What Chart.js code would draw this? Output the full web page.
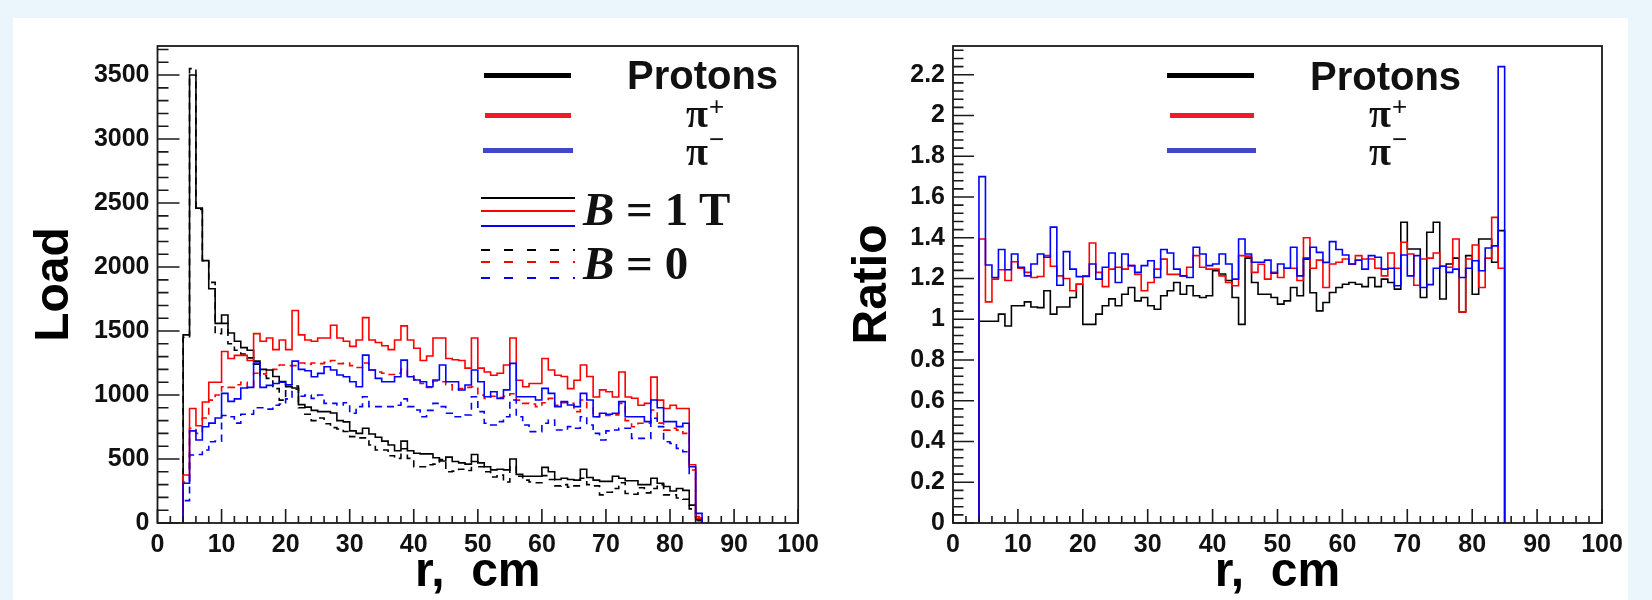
<!DOCTYPE html>
<html>
<head>
<meta charset="utf-8">
<script src="https://cdn.jsdelivr.net/npm/chart.js@4.4.1/dist/chart.umd.min.js"></script>
<style>
html,body{margin:0;padding:0;}
body{width:1652px;height:600px;background:#eaf5fc;position:relative;overflow:hidden;}
#panel{position:absolute;left:13px;top:18px;width:1615px;height:582px;background:#fff;}
canvas{position:absolute;top:0;}
#c1{left:0;}
#c2{left:826px;}
.ln{position:absolute;height:2px;}
.bar{position:absolute;height:5px;}
.t{position:absolute;white-space:nowrap;color:#111;}
.prot{font:bold 40px 'Liberation Sans',Arial,sans-serif;line-height:40px;}
.pi{font:bold 40px 'Liberation Serif','Times New Roman',serif;line-height:40px;}
.sup{font:26px 'Liberation Sans',Arial,sans-serif;line-height:26px;}
.bl{font:bold 47px 'Liberation Serif','Times New Roman',serif;line-height:47px;}
.dash{background:repeating-linear-gradient(to right,var(--c) 0 9px,transparent 9px 23px);}
</style>
</head>
<body>
<div id="panel"></div>
<canvas id="c1" width="826" height="600"></canvas>
<canvas id="c2" width="826" height="600"></canvas>

<!-- left legend -->
<div class="bar" style="left:484px;top:73px;width:87px;background:#000;"></div>
<div class="bar" style="left:485px;top:112.5px;width:86px;background:#ee1c24;"></div>
<div class="bar" style="left:483px;top:147.5px;width:90px;background:#3f48cc;"></div>
<div class="t prot" style="left:627px;top:55.1px;">Protons</div>
<div class="t pi" style="left:686px;top:93.5px;">π</div>
<div class="t sup" style="left:709px;top:92.5px;">+</div>
<div class="t pi" style="left:686px;top:131.5px;">π</div>
<div class="t sup" style="left:709px;top:126px;">−</div>
<div class="ln" style="left:481px;top:197px;width:94px;background:#000;"></div>
<div class="ln" style="left:481px;top:210px;width:94px;background:#ff0000;"></div>
<div class="ln" style="left:481px;top:224.5px;width:94px;background:#0000ff;"></div>
<div class="t bl" style="left:583px;top:185.6px;"><i>B</i> = 1 T</div>
<div class="ln dash" style="left:481px;top:249px;width:94px;--c:#000;"></div>
<div class="ln dash" style="left:481px;top:261.3px;width:94px;--c:#ff0000;"></div>
<div class="ln dash" style="left:481px;top:276.7px;width:94px;--c:#0000ff;"></div>
<div class="t bl" style="left:583px;top:239.6px;"><i>B</i> = 0</div>

<!-- right legend -->
<div class="bar" style="left:1167px;top:73px;width:87px;background:#000;"></div>
<div class="bar" style="left:1170px;top:112.5px;width:84px;background:#ee1c24;"></div>
<div class="bar" style="left:1167px;top:148px;width:89px;background:#3f48cc;"></div>
<div class="t prot" style="left:1310px;top:56.1px;">Protons</div>
<div class="t pi" style="left:1369px;top:93.5px;">π</div>
<div class="t sup" style="left:1392px;top:92.5px;">+</div>
<div class="t pi" style="left:1369px;top:131.5px;">π</div>
<div class="t sup" style="left:1392px;top:126px;">−</div>

<script>
// ---- bins (lower edges, cm), 1 cm wide ----
const binLow = [4,5,6,7,8,9,10,11,12,13,14,15,16,17,18,19,20,21,22,23,24,25,26,27,28,29,30,31,32,33,34,35,36,37,38,39,40,41,42,43,44,45,46,47,48,49,50,51,52,53,54,55,56,57,58,59,60,61,62,63,64,65,66,67,68,69,70,71,72,73,74,75,76,77,78,79,80,81,82,83,84];

// ---- tick labels ----
const xTickVals = [0,10,20,30,40,50,60,70,80,90,100];
const yTickLoad = [0,500,1000,1500,2000,2500,3000,3500];
const yTickRatio = [0,0.2,0.4,0.6,0.8,1,1.2,1.4,1.6,1.8,2,2.2];

// ---- Load, B = 1 T ----
const protonsB1 = [1470,3500,2460,2050,1830,1560,1625,1485,1420,1370,
 1350,1265,1200,1195,1145,1105,1065,1055,925,905,
 880,870,870,860,800,790,720,700,740,695,
 670,640,610,565,640,565,545,540,540,510,
 485,515,480,470,460,535,470,440,415,420,
 415,500,380,365,365,365,435,400,340,350,
 340,335,420,355,335,325,325,365,350,330,
 330,300,300,350,310,285,250,270,255,140,
 25];
const piPlusB1 = [375,895,760,945,1100,1100,1340,1285,1310,1310,
 1270,1480,1420,1445,1355,1430,1355,1660,1470,1430,
 1420,1445,1445,1545,1445,1420,1380,1430,1605,1430,
 1410,1385,1355,1430,1540,1430,1365,1270,1305,1445,
 1445,1285,1275,1270,1210,1445,1210,1180,1155,1170,
 1235,1445,1115,1065,1090,1090,1285,1195,1155,1145,
 1050,1115,1235,1145,985,1040,1025,985,1180,985,
 975,920,935,1140,960,895,920,895,895,455,
 35];
const piMinusB1 = [310,720,648,752,780,820,1013,950,970,1055,
 1060,1250,1060,1075,1090,1100,1080,1265,1200,1190,
 1143,1169,1221,1195,1156,1143,1104,1065,1312,1195,
 1130,1104,1104,1143,1273,1143,1117,1104,1065,1117,
 1234,1104,1104,1039,1078,1195,1104,987,1026,974,
 1040,1247,987,987,987,961,1052,1013,909,948,
 922,909,1013,961,830,857,850,857,948,830,
 830,830,792,961,900,792,792,753,779,440,
 75];

// ---- Load, B = 0 ----
const protonsB0 = [1450,3550,2450,2050,1880,1480,1560,1400,1350,1320,
 1290,1240,1150,1130,1050,960,1080,1070,900,850,
 800,820,775,745,735,715,675,665,665,610,
 570,570,525,505,580,505,440,440,455,460,
 495,400,405,420,410,480,440,400,360,375,
 320,440,365,335,320,315,370,340,290,300,
 280,290,350,300,290,220,240,270,315,230,
 225,275,235,270,300,220,220,195,185,110,
 18];
const piPlusB0 = [320,740,700,820,960,1000,1065,1060,1080,1100,
 1060,1170,1165,1190,1200,1234,1230,1230,1250,1240,
 1250,1245,1255,1270,1245,1250,1230,1215,1250,1195,
 1180,1170,1160,1170,1200,1150,1120,1090,1060,1110,
 1104,1080,1039,1050,1060,1065,1000,974,990,980,
 990,1010,960,935,930,909,940,974,920,940,
 935,870,961,900,830,850,840,845,935,800,
 752,779,780,883,780,726,740,726,700,414,
 50];
const piMinusB0 = [175,531,535,570,635,640,840,830,780,850,
 850,900,900,890,920,930,970,1045,990,1000,
 974,1000,935,935,922,940,857,909,987,909,
 909,909,909,920,970,909,883,830,880,935,
 909,857,830,830,844,987,870,779,766,792,
 830,961,830,766,714,714,779,805,727,727,
 753,740,830,766,700,648,720,727,740,740,
 661,661,661,818,753,635,622,583,557,388,
 36];

// ---- Ratio ----
const ratioProtons = [0.99,0.99,0.99,1.025,0.967,1.066,1.066,1.085,1.06,1.057,
 1.14,1.025,1.06,1.06,1.107,1.172,0.975,0.975,1.025,1.066,
 1.1,1.066,1.123,1.156,1.09,1.107,1.066,1.049,1.115,1.14,
 1.18,1.123,1.164,1.115,1.107,1.115,1.238,1.222,1.19,1.107,
 0.975,1.3,1.18,1.123,1.123,1.107,1.074,1.09,1.156,1.115,
 1.295,1.13,1.041,1.082,1.131,1.156,1.172,1.18,1.172,1.16,
 1.205,1.16,1.197,1.18,1.148,1.476,1.345,1.345,1.107,1.427,
 1.476,1.099,1.271,1.3,1.036,1.312,1.123,1.394,1.394,1.28,
 1.435];
const ratioPiPlus = [1.394,1.085,1.197,1.243,1.19,1.282,1.25,1.23,1.205,1.21,
 1.312,1.26,1.213,1.2,1.14,1.172,1.213,1.374,1.23,1.16,
 1.246,1.255,1.246,1.263,1.22,1.14,1.18,1.246,1.295,1.22,
 1.22,1.213,1.255,1.312,1.255,1.246,1.246,1.213,1.18,1.164,
 1.312,1.31,1.23,1.27,1.197,1.23,1.205,1.25,1.25,1.19,
 1.40,1.25,1.29,1.156,1.271,1.28,1.296,1.27,1.312,1.296,
 1.296,1.25,1.213,1.325,1.25,1.378,1.32,1.167,1.296,1.3,
 1.325,1.26,1.255,1.394,1.036,1.296,1.364,1.156,1.3,1.5,
 1.25];
const ratioPiMinus = [1.70,1.266,1.205,1.342,1.243,1.32,1.255,1.213,1.271,1.32,
 1.304,1.452,1.167,1.332,1.246,1.209,1.21,1.271,1.197,1.255,
 1.325,1.18,1.32,1.263,1.23,1.263,1.287,1.205,1.342,1.325,
 1.246,1.213,1.205,1.353,1.32,1.263,1.271,1.32,1.271,1.197,
 1.394,1.32,1.28,1.28,1.29,1.226,1.271,1.25,1.353,1.213,
 1.3,1.353,1.328,1.279,1.381,1.342,1.315,1.271,1.29,1.246,
 1.312,1.304,1.246,1.25,1.164,1.315,1.213,1.312,1.156,1.17,
 1.25,1.26,1.23,1.246,1.205,1.25,1.287,1.238,1.35,1.36,
 2.24];

// histogram outline points: rise from 0 at first edge, step per bin, drop to 0 at last edge
function histPoints(vals) {
  const pts = [{x: binLow[0], y: 0}];
  vals.forEach((v, i) => pts.push({x: binLow[i], y: v}));
  pts.push({x: binLow[binLow.length - 1] + 1, y: 0});
  return pts;
}
function ds(vals, color, dashed, order) {
  return {data: histPoints(vals), borderColor: color, borderWidth: 1.6, stepped: true,
    fill: false, pointRadius: 0, borderDash: dashed ? [7, 5] : [], order: order};
}

// ROOT-like frame with inner ticks
const rootAxes = {
  id: 'rootAxes',
  afterDraw(chart, args, o) {
    const {ctx, chartArea: a, scales: {x, y}} = chart;
    ctx.save();
    ctx.strokeStyle = '#1a1a1a';
    ctx.lineWidth = 1.6;
    ctx.beginPath();
    const nx = Math.round((x.max - x.min) / o.xMinor);
    for (let k = 0; k <= nx; k++) {
      const v = x.min + k * o.xMinor;
      const px = x.getPixelForValue(v);
      const major = Math.abs(v / o.xMajor - Math.round(v / o.xMajor)) < 1e-6;
      ctx.moveTo(px, a.bottom);
      ctx.lineTo(px, a.bottom - (major ? o.xMajLen : o.xMinLen));
    }
    const ny = Math.floor((y.max - y.min) / o.yMinor + 1e-6);
    for (let k = 0; k <= ny; k++) {
      const v = y.min + k * o.yMinor;
      const py = y.getPixelForValue(v);
      const major = Math.abs(v / o.yMajor - Math.round(v / o.yMajor)) < 1e-6;
      ctx.moveTo(a.left, py);
      ctx.lineTo(a.left + (major ? o.yMajLen : o.yMinLen), py);
    }
    ctx.stroke();
    ctx.lineWidth = 1.8;
    ctx.strokeRect(a.left, a.top, a.right - a.left, a.bottom - a.top);
    ctx.restore();
  }
};

const tickFont = {family: "'Liberation Sans', Arial, sans-serif", weight: 'bold', size: 25};
const titleFont = {family: "'Liberation Sans', Arial, sans-serif", weight: 'bold', size: 48, lineHeight: 1};

function makeChart(id, datasets, cfg) {
  return new Chart(document.getElementById(id), {
    type: 'line',
    data: {datasets},
    options: {
      responsive: false, animation: false, devicePixelRatio: 1,
      layout: {padding: {top: 46, right: cfg.padRight, left: 0, bottom: 0}},
      plugins: {legend: {display: false}, tooltip: {enabled: false}, rootAxes: cfg.ticks},
      scales: {
        x: {
          type: 'linear', min: 0, max: 100,
          afterBuildTicks: s => { s.ticks = xTickVals.map(v => ({value: v})); },
          afterFit: s => { s.height = 77; },
          grid: {display: false, drawTicks: false}, border: {display: false},
          ticks: {font: tickFont, color: '#111', padding: 7, maxRotation: 0, autoSkip: false,
                  callback: v => String(v)},
          title: {display: true, text: 'r,  cm', font: titleFont, color: '#000', padding: {top: 0, bottom: 3}}
        },
        y: {
          type: 'linear', min: 0, max: cfg.yMax,
          afterBuildTicks: s => { s.ticks = cfg.yTicks.map(v => ({value: v})); },
          afterFit: s => { s.width = cfg.yWidth; },
          grid: {display: false, drawTicks: false}, border: {display: false},
          ticks: {font: tickFont, color: '#111', padding: 8, autoSkip: false,
                  callback: v => String(+Number(v).toFixed(2))},
          title: {display: true, text: cfg.yTitle, font: titleFont, color: '#000', padding: {top: cfg.yTitlePad, bottom: 0}}
        }
      }
    },
    plugins: [rootAxes]
  });
}

makeChart('c1', [
  ds(piMinusB1, '#0000ff', false, 0),
  ds(piPlusB1, '#ff0000', false, 1),
  ds(protonsB1, '#000000', false, 2),
  ds(piMinusB0, '#0000ff', true, 3),
  ds(piPlusB0, '#ff0000', true, 4),
  ds(protonsB0, '#000000', true, 5)
], {padRight: 20, yWidth: 157.5, yMax: 3727, yTicks: yTickLoad, yTitle: 'Load', yTitlePad: 31,
    ticks: {xMajor: 10, xMinor: 2, xMajLen: 14, xMinLen: 7, yMajor: 500, yMinor: 100, yMajLen: 22, yMinLen: 11}});

makeChart('c2', [
  ds(ratioPiMinus, '#0000ff', false, 0),
  ds(ratioPiPlus, '#ff0000', false, 1),
  ds(ratioProtons, '#000000', false, 2)
], {padRight: 50, yWidth: 127, yMax: 2.341, yTicks: yTickRatio, yTitle: 'Ratio', yTitlePad: 23,
    ticks: {xMajor: 10, xMinor: 2, xMajLen: 14, xMinLen: 7, yMajor: 0.2, yMinor: 0.04, yMajLen: 21, yMinLen: 10.5}});
</script>
</body>
</html>
